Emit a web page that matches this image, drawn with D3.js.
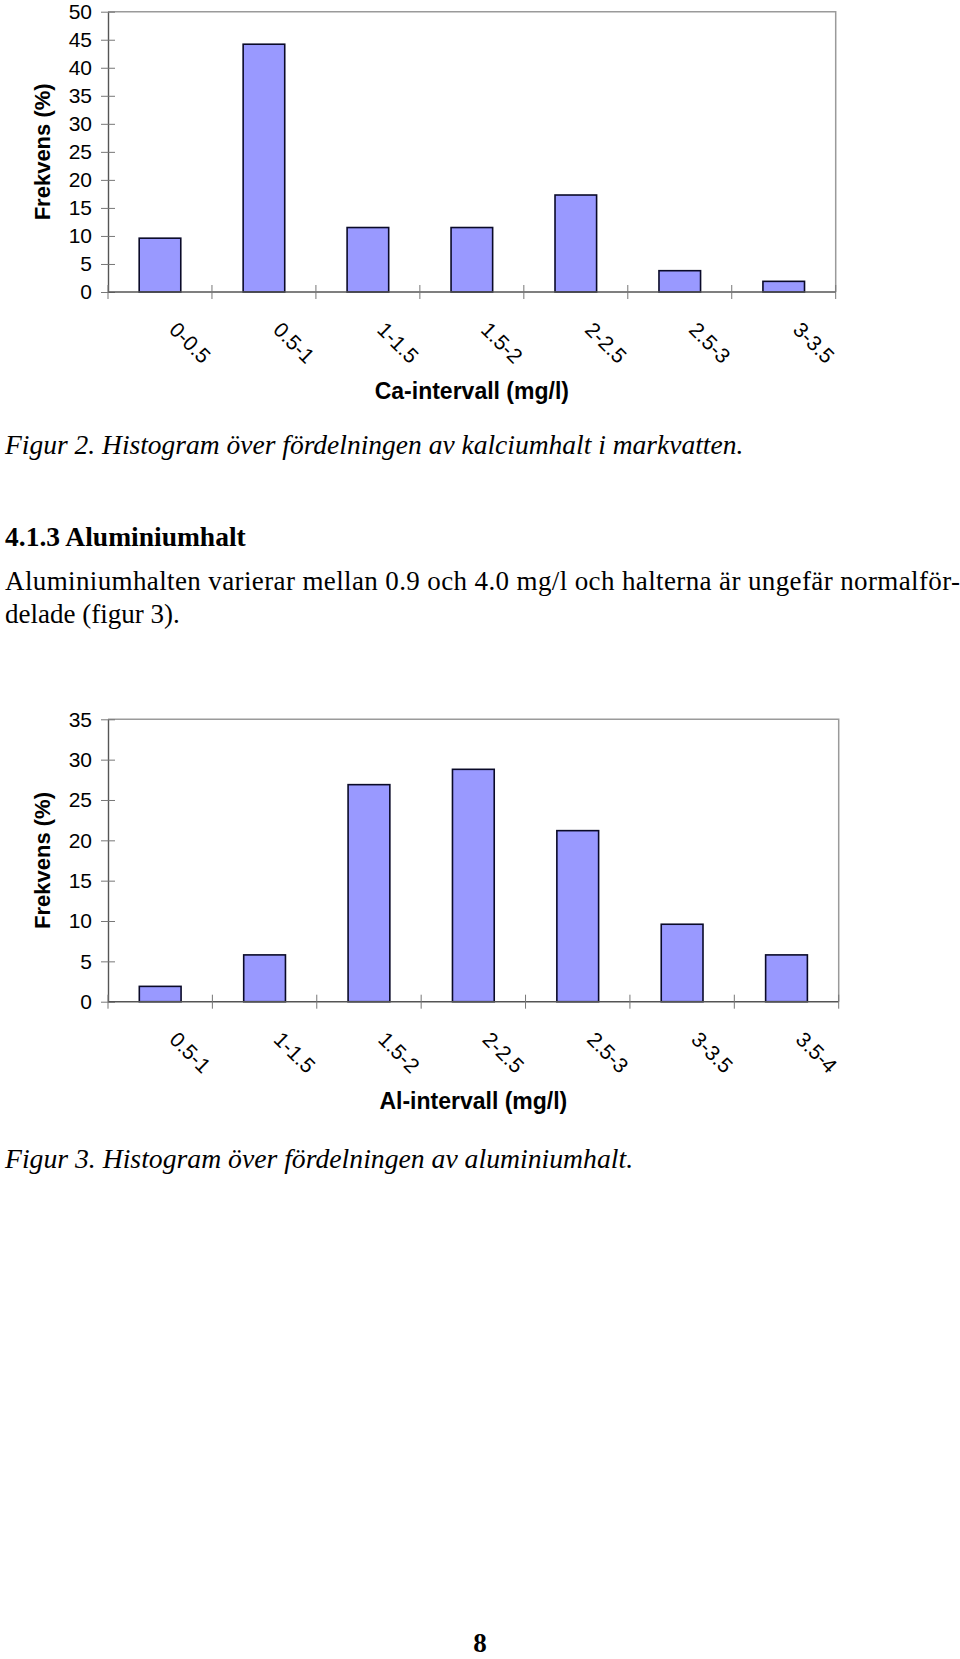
<!DOCTYPE html>
<html>
<head>
<meta charset="utf-8">
<script src="https://cdn.jsdelivr.net/npm/d3@7"></script>
<style>
  html, body { margin: 0; padding: 0; background: #fff; }
  svg { display: block; }
</style>
</head>
<body>
<svg id="page" width="960" height="1659"></svg>
<script>
// ---- Data ----
const caCategories = ["0-0.5", "0.5-1", "1-1.5", "1.5-2", "2-2.5", "2.5-3", "3-3.5"];
const caValues = [9.6, 44.2, 11.5, 11.5, 17.3, 3.8, 1.9];
const caTicks = [0, 5, 10, 15, 20, 25, 30, 35, 40, 45, 50];

const alCategories = ["0.5-1", "1-1.5", "1.5-2", "2-2.5", "2.5-3", "3-3.5", "3.5-4"];
const alValues = [1.9, 5.8, 26.9, 28.8, 21.2, 9.6, 5.8];
const alTicks = [0, 5, 10, 15, 20, 25, 30, 35];

const yTitle = "Frekvens (%)";
const caXTitle = "Ca-intervall (mg/l)";
const alXTitle = "Al-intervall (mg/l)";

const caption2 = "Figur 2. Histogram över fördelningen av kalciumhalt i markvatten.";
const heading = "4.1.3 Aluminiumhalt";
const paraLine1 = "Aluminiumhalten varierar mellan 0.9 och 4.0 mg/l och halterna är ungefär normalför-";
const paraLine2 = "delade (figur 3).";
const caption3 = "Figur 3. Histogram över fördelningen av aluminiumhalt.";
const pageNumber = "8";

const svg = d3.select("#page");
const sans = "'Liberation Sans', Arial, sans-serif";
const serif = "'Liberation Serif', 'Times New Roman', serif";

function drawChart(opts) {
  const {categories, values, ticks, yMax, left, right, top, bottom, xTitle} = opts;
  const g = svg.append("g");
  const x = d3.scaleBand().domain(categories).range([left, right])
    .paddingInner(0.6).paddingOuter(0.3);
  const y = d3.scaleLinear().domain([0, yMax]).range([bottom, top]);
  const step = x.step();

  // frame top/right
  g.append("path")
    .attr("d", `M${left},${top}H${right}V${bottom}`)
    .attr("fill", "none").attr("stroke", "#9a9a9a").attr("stroke-width", 1.5);

  // bars
  g.selectAll("rect.bar").data(values).join("rect")
    .attr("class", "bar")
    .attr("x", (d, i) => x(categories[i]))
    .attr("y", d => y(d))
    .attr("width", x.bandwidth())
    .attr("height", d => y(0) - y(d))
    .attr("fill", "#9999ff")
    .attr("stroke", "#0a0a28")
    .attr("stroke-width", 1.6);

  // y axis
  const yAxis = d3.axisLeft(y).tickValues(ticks).tickSizeInner(7).tickSizeOuter(0).tickPadding(11);
  const ya = g.append("g").attr("transform", `translate(${left},0)`).call(yAxis);
  ya.select(".domain").attr("stroke", "#555").attr("stroke-width", 1.4);
  ya.selectAll(".tick line").attr("x2", 7).attr("x1", -7).attr("stroke", "#777").attr("stroke-width", 1);
  ya.selectAll(".tick text").attr("x", -16)
    .style("font-family", sans).style("font-size", "21px").attr("fill", "#000");

  // x axis (category boundaries)
  const boundScale = d3.scaleLinear().domain([0, categories.length]).range([left, left + step * categories.length]);
  const xa = g.append("g");
  xa.append("line").attr("x1", left).attr("x2", right).attr("y1", bottom).attr("y2", bottom)
    .attr("stroke", "#555").attr("stroke-width", 1.4);
  xa.selectAll("line.tk").data(d3.range(categories.length + 1)).join("line")
    .attr("class", "tk")
    .attr("x1", d => boundScale(d)).attr("x2", d => boundScale(d))
    .attr("y1", bottom - 7).attr("y2", bottom + 7)
    .attr("stroke", "#777").attr("stroke-width", 1);

  xa.selectAll("text.lbl").data(categories).join("text")
    .attr("class", "lbl")
    .attr("transform", d => `translate(${x(d) + x.bandwidth() / 2 + 8},${bottom + 39}) rotate(45)`)
    .attr("text-anchor", "start")
    .style("font-family", sans).style("font-size", "21px")
    .text(d => d);

  // titles
  g.append("text")
    .attr("x", (left + right) / 2).attr("y", bottom + 107)
    .attr("text-anchor", "middle")
    .style("font-family", sans).style("font-size", "23px").style("font-weight", "bold")
    .text(xTitle);
  g.append("text")
    .attr("transform", `translate(50,${(top + bottom) / 2}) rotate(-90)`)
    .attr("text-anchor", "middle")
    .style("font-family", sans).style("font-size", "22px").style("font-weight", "bold")
    .text(yTitle);
}

drawChart({categories: caCategories, values: caValues, ticks: caTicks, yMax: 50,
  left: 108, right: 835.7, top: 11.7, bottom: 292, xTitle: caXTitle});
drawChart({categories: alCategories, values: alValues, ticks: alTicks, yMax: 35,
  left: 108, right: 838.7, top: 719.3, bottom: 1001.7, xTitle: alXTitle});

// ---- Text ----
function txt(s, x, y, opts) {
  const t = svg.append("text").attr("x", x).attr("y", y)
    .style("font-family", serif).style("font-size", (opts.size || 27) + "px")
    .text(s);
  if (opts.italic) t.style("font-style", "italic");
  if (opts.bold) t.style("font-weight", "bold");
  if (opts.anchor) t.attr("text-anchor", opts.anchor);
  if (opts.len) t.attr("textLength", opts.len).attr("lengthAdjust", "spacing");
  return t;
}
txt(caption2, 5, 454, {italic: true, size: 27.5});
txt(heading, 5, 546, {bold: true, size: 27.5});
txt(paraLine1, 5, 590, {len: 955});
txt(paraLine2, 5, 623, {});
txt(caption3, 5, 1168, {italic: true, size: 27.7});
txt(pageNumber, 480, 1652, {bold: true, anchor: "middle"});
</script>
</body>
</html>
